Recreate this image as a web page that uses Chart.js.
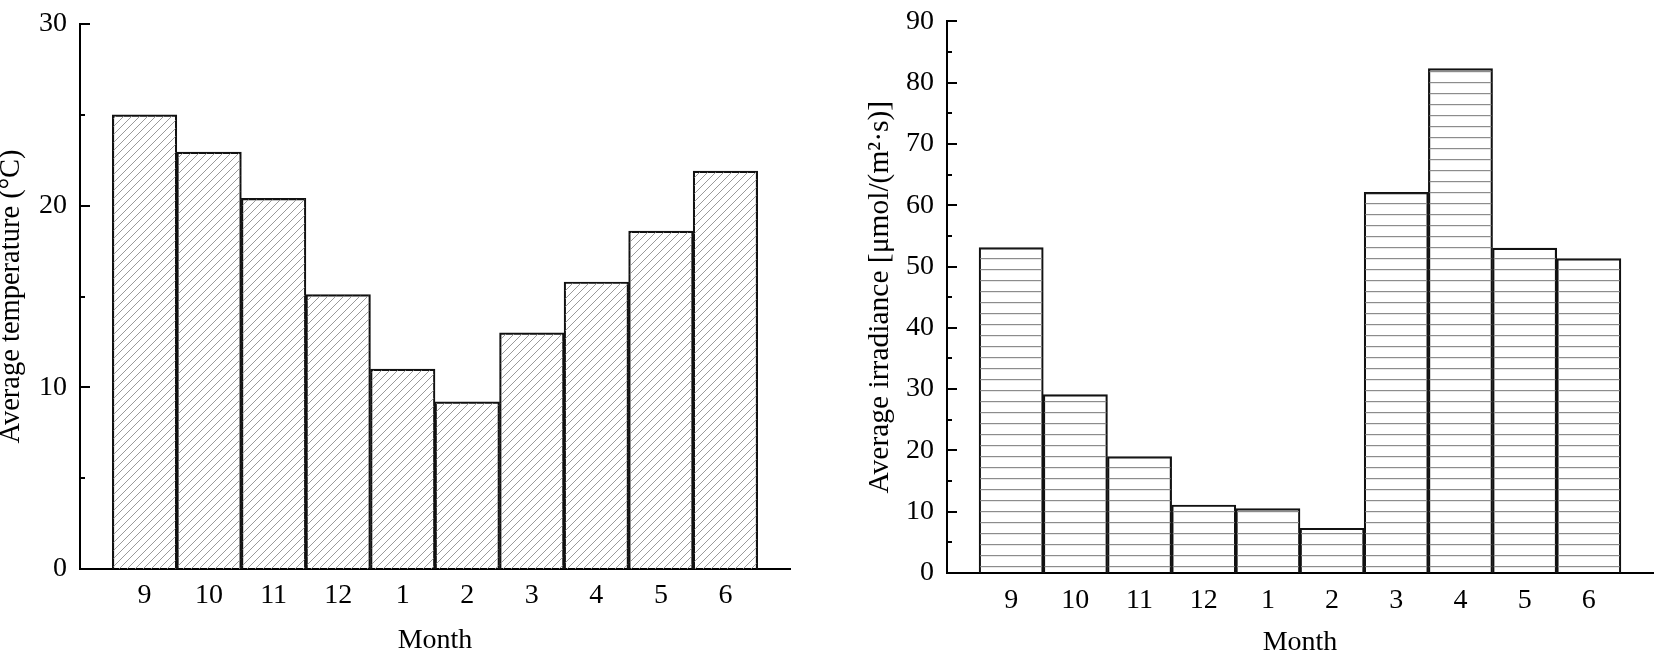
<!DOCTYPE html>
<html>
<head>
<meta charset="utf-8">
<script src="https://cdn.jsdelivr.net/npm/chart.js@4.4.1/dist/chart.umd.min.js"></script>
<style>
html, body { margin: 0; padding: 0; background: #fff; }
#wrap { position: relative; width: 1654px; height: 658px; overflow: hidden; }
#c-temp { position: absolute; left: 0; top: 0; }
#c-irr { position: absolute; left: 820px; top: 0; }
</style>
</head>
<body>
<div id="wrap">
  <canvas id="c-temp" width="800" height="658"></canvas>
  <canvas id="c-irr" width="834" height="658"></canvas>
</div>
<script>
// ── DATOS ──
var meses       = ['9', '10', '11', '12', '1', '2', '3', '4', '5', '6'];
var temperatura = [25.0, 22.95, 20.4, 15.1, 11.0, 9.2, 13.0, 15.8, 18.6, 21.9];
var irradiancia = [53.1, 29.1, 19.0, 11.1, 10.5, 7.3, 62.1, 82.3, 53.0, 51.3];
var ticksTemp   = [0, 10, 20, 30];
var ticksIrr    = [0, 10, 20, 30, 40, 50, 60, 70, 80, 90];

Chart.defaults.font.family = "'Liberation Serif', 'Times New Roman', serif";
Chart.defaults.color = '#000';

// ── PATRONES ──
function patronDiagonal() {
  var c = document.createElement('canvas');
  c.width = 8; c.height = 8;
  var g = c.getContext('2d');
  g.strokeStyle = '#8f8f8f';
  g.lineWidth = 0.9;
  g.beginPath();
  g.moveTo(0, 8); g.lineTo(8, 0);
  g.moveTo(-1, 1); g.lineTo(1, -1);
  g.moveTo(7, 9); g.lineTo(9, 7);
  g.stroke();
  return g.createPattern(c, 'repeat');
}

function patronHorizontal() {
  var c = document.createElement('canvas');
  c.width = 4; c.height = 11;
  var g = c.getContext('2d');
  g.fillStyle = '#8c8c8c';
  g.fillRect(0, 5, 4, 1.2);
  return g.createPattern(c, 'repeat');
}

// ticks hacia adentro (mayores cada 10, menores cada 5)
var ticksInternos = {
  id: 'ticksInternos',
  afterDatasetsDraw: function(chart, args, opts) {
    var ctx = chart.ctx, y = chart.scales.y, izq = chart.chartArea.left;
    ctx.save();
    ctx.strokeStyle = '#000';
    ctx.lineWidth = 2;
    y.ticks.forEach(function(t) {
      if (t.value === 0) return;
      var py = Math.round(y.getPixelForValue(t.value));
      var largo = (t.value % opts.paso === 0) ? 10 : 5;
      ctx.beginPath();
      ctx.moveTo(izq, py);
      ctx.lineTo(izq + largo, py);
      ctx.stroke();
    });
    ctx.restore();
  }
};

function crearGrafico(id, valores, ticksY, patron, cfg) {
  return new Chart(document.getElementById(id), {
    type: 'bar',
    data: {
      datasets: [{
        data: valores.map(function(v, i) { return { x: i, y: v }; }),
        backgroundColor: patron,
        borderColor: '#111',
        borderWidth: 1.5,
        borderSkipped: 'bottom',
        categoryPercentage: 1,
        barPercentage: 1
      }]
    },
    options: {
      responsive: false,
      animation: false,
      devicePixelRatio: 1,
      layout: { padding: { top: cfg.top, right: cfg.right, left: 0, bottom: 0 } },
      plugins: { legend: { display: false }, tooltip: { enabled: false }, ticksInternos: { paso: 10 } },
      scales: {
        x: {
          type: 'linear', min: -1, max: meses.length, offset: false,
          grid: { display: false, drawTicks: false },
          border: { color: '#000', width: 2 },
          afterBuildTicks: function(s) { s.ticks = meses.map(function(m, i) { return { value: i }; }); },
          afterFit: function(s) { s.height = cfg.altoX; },
          ticks: {
            autoSkip: false, maxRotation: 0, padding: cfg.padX, color: '#000',
            font: { size: 28 },
            callback: function(v) { return meses[v]; }
          },
          title: {
            display: true, text: 'Month', color: '#000',
            font: { size: 28, lineHeight: 1 },
            padding: { top: 0, bottom: cfg.padTituloX }
          }
        },
        y: {
          min: 0, max: ticksY[ticksY.length - 1],
          grid: { display: false, drawTicks: false },
          border: { color: '#000', width: 2 },
          afterFit: function(s) { s.width = cfg.anchoY; },
          ticks: {
            stepSize: 5, autoSkip: false, padding: 13, color: '#000',
            font: { size: 28, lineHeight: 0.6 },
            callback: function(v) { return ticksY.indexOf(v) >= 0 ? String(v) : ''; }
          },
          title: {
            display: true, text: cfg.tituloY, color: '#000',
            font: { size: cfg.tamTituloY, lineHeight: 1 },
            padding: { top: cfg.padTituloY, bottom: 0 }
          }
        }
      }
    },
    plugins: [ticksInternos]
  });
}

crearGrafico('c-temp', temperatura, ticksTemp, patronDiagonal(), {
  top: 24, right: 10, anchoY: 80, altoX: 89, padX: 9.5, padTituloX: 3,
  tamTituloY: 28.5, padTituloY: -3, tituloY: 'Average temperature (°C)'
});

crearGrafico('c-irr', irradiancia, ticksIrr, patronHorizontal(), {
  top: 9, right: 1, anchoY: 127, altoX: 85, padX: 10.5, padTituloX: 1,
  tamTituloY: 29.5, padTituloY: 45.5, tituloY: 'Average irradiance [μmol/(m²·s)]'
});
</script>
</body>
</html>
